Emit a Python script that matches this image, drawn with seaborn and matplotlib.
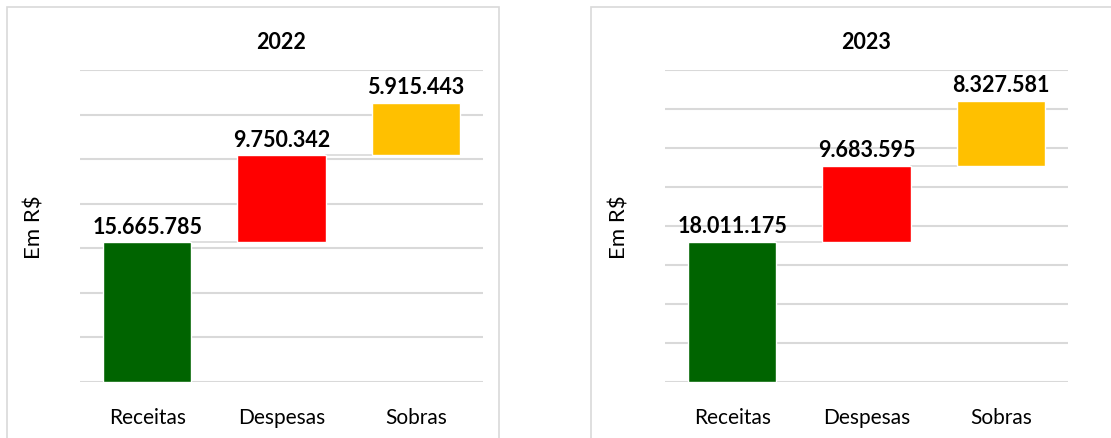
import matplotlib
matplotlib.use("Agg")
import matplotlib.pyplot as plt
import matplotlib.patches as mpatches
import seaborn as sns

# data
categories = ["Receitas", "Despesas", "Sobras"]
years = ["2022", "2023"]
receitas = [15665785, 18011175]
despesas = [9750342, 9683595]
sobras = [5915443, 8327581]
y_max = [35_000_000, 40_000_000]
bar_colors = ["#006400", "#FF0000", "#FFC000"]

sns.set_theme(style="white")
plt.rcParams["font.family"] = ["Lato", "DejaVu Sans"]

fig = plt.figure(figsize=(11.11, 4.39), dpi=100)

grid_color = "#d9d9d9"
panel_lefts = [80 / 1111, 665 / 1111]
ax_w = 403 / 1111
ax_b = (439 - 383) / 439
ax_h = (383 - 71) / 439

# panel borders
fig.patches.append(mpatches.Rectangle((7 / 1111, -0.05), 492 / 1111, 1.05 - 8 / 439,
                                      transform=fig.transFigure, fill=False,
                                      edgecolor=grid_color, lw=1.2))
fig.patches.append(mpatches.Rectangle((591 / 1111, -0.05), 0.6, 1.05 - 8 / 439,
                                      transform=fig.transFigure, fill=False,
                                      edgecolor=grid_color, lw=1.2))

def fmt(v):
    return f"{v:,}".replace(",", ".")

for i, year in enumerate(years):
    ax = fig.add_axes([panel_lefts[i], ax_b, ax_w, ax_h])
    values = [receitas[i], despesas[i], sobras[i]]
    bottoms = [0, receitas[i], receitas[i] + despesas[i]]
    width = 0.66

    for cat, val, bot, col in zip(categories, values, bottoms, bar_colors):
        sns.barplot(x=[cat], y=[val], order=categories, color=col, bottom=bot,
                    width=width, errorbar=None, saturation=1, ax=ax, zorder=3)
        ax.bar_label(ax.containers[-1], labels=[fmt(val)], padding=4,
                     fontsize=15.5, fontweight="bold", color="black")

    # connector lines between bars
    for k in range(len(categories) - 1):
        level = bottoms[k] + values[k]
        ax.plot([k + width / 2, k + 1 - width / 2], [level, level],
                color=grid_color, lw=1.2, zorder=2)

    ax.set_ylim(0, y_max[i])
    ax.set_xlim(-0.5, 2.5)
    ax.set_yticks(range(0, y_max[i] + 1, 5_000_000))
    ax.set_yticklabels([])
    ax.yaxis.grid(True, color=grid_color, lw=1.5, zorder=0)
    ax.set_axisbelow(True)
    for s in ax.spines.values():
        s.set_visible(False)
    ax.tick_params(axis="both", length=0)
    ax.tick_params(axis="x", pad=18, labelsize=15, labelcolor="black")
    ax.set_xlabel("")
    ax.set_ylabel(r"Em R\$", fontsize=16, color="black", labelpad=22)
    ax.set_title(year, fontsize=15.5, fontweight="bold", pad=16, color="black")

plt.savefig("out.png", dpi=100)
plt.close()
